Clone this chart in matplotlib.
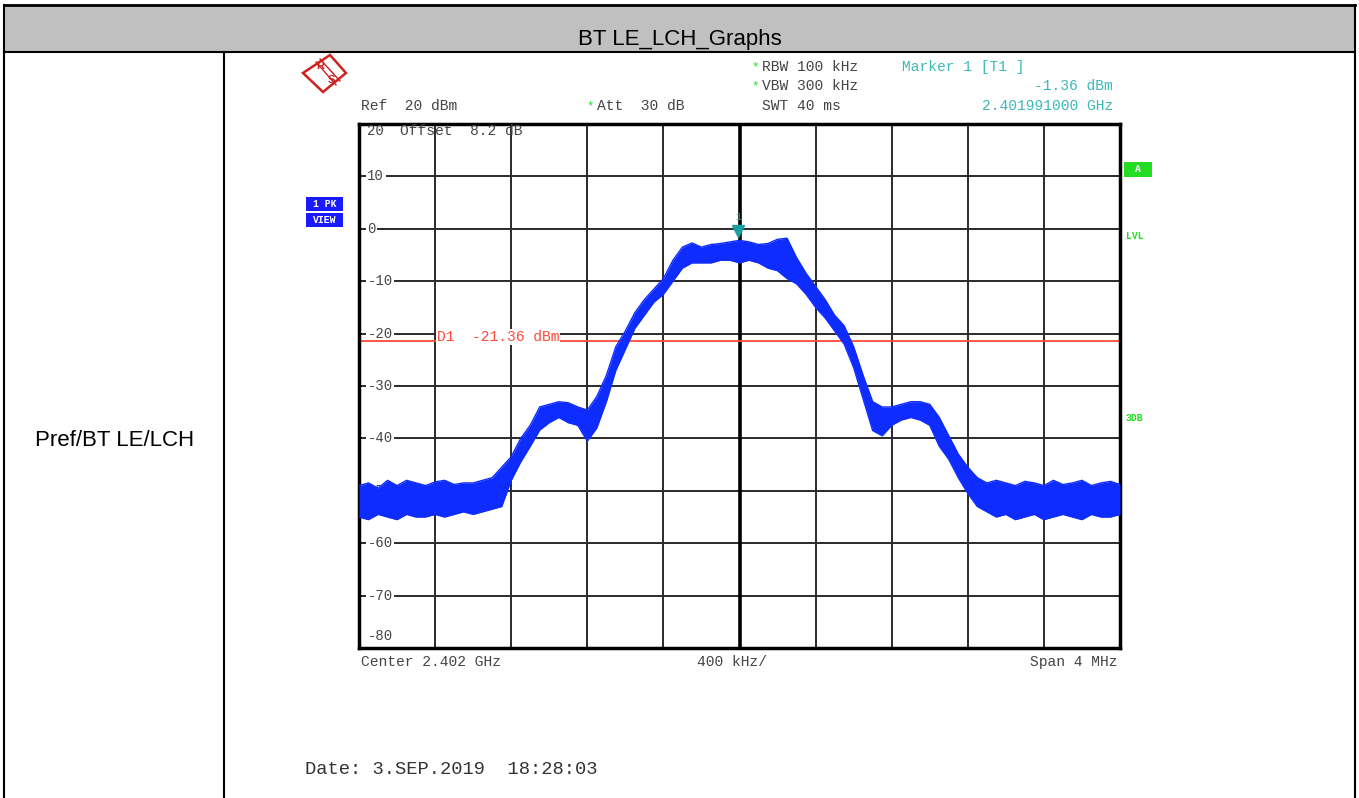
import numpy as np
import matplotlib
matplotlib.use("Agg")
import matplotlib.pyplot as plt
from matplotlib.patches import Rectangle, Polygon
from matplotlib import transforms

# sweep settings
center_ghz = 2.402
span_ghz = 0.004
ref_level = 20
db_per_div = 10
display_line = -21.36
marker_f = 2.401991
marker_db = -1.36

# 81 sweep samples, 50 kHz apart (2.400 .. 2.404 GHz)
freq = np.linspace(center_ghz - span_ghz / 2, center_ghz + span_ghz / 2, 81)

# peak trace envelope (dBm), upper and lower edge of the noisy trace
trace_hi = [
    -49.0, -48.5, -49.5, -48.0, -49.0, -48.0, -48.5, -49.0, -48.3, -48.0,
    -48.8, -48.5, -48.5, -48.0, -47.5, -45.5, -43.5, -40.0, -37.5, -34.0,
    -33.5, -33.0, -33.2, -34.0, -34.6, -32.0, -28.0, -22.5, -19.5, -16.0,
    -13.5, -11.5, -9.5, -6.0, -3.5, -2.7, -3.5, -3.0, -2.8, -2.5,
    -2.2, -2.5, -3.0, -2.8, -2.0, -1.8, -5.5, -8.5, -11.0, -13.5,
    -16.5, -18.5, -22.5, -28.0, -33.0, -34.0, -34.0, -33.5, -33.0, -33.0,
    -33.5, -36.0, -39.5, -43.0, -45.5, -47.5, -48.5, -48.0, -48.5, -49.0,
    -48.2, -48.5, -49.0, -48.0, -48.8, -48.5, -48.0, -49.0, -48.5, -48.2,
    -48.8,
]
trace_lo = [
    -55.0, -55.5, -54.5, -55.0, -55.5, -54.5, -55.0, -55.0, -54.5, -55.0,
    -54.5, -54.0, -54.5, -54.0, -53.5, -53.0, -48.0, -44.5, -41.5, -38.4,
    -37.0, -36.0, -37.0, -37.5, -40.5, -38.0, -33.0, -27.0, -23.0, -19.0,
    -16.5, -14.0, -12.5, -10.0, -7.5, -6.5, -6.5, -6.5, -6.0, -6.0,
    -6.5, -6.0, -6.5, -7.5, -8.0, -9.5, -10.5, -12.5, -15.0, -17.0,
    -19.5, -22.0, -26.5, -32.5, -38.5, -39.5, -37.5, -36.5, -36.0, -36.5,
    -37.5, -41.5, -44.0, -47.5, -50.5, -53.0, -54.0, -55.0, -54.5, -55.5,
    -55.0, -54.5, -55.5, -55.0, -54.5, -55.0, -55.5, -54.5, -55.0, -55.0,
    -54.5,
]

W, H = 1359, 798
MONO = "Liberation Mono"
SANS = "Liberation Sans"
GREY_TXT = "#454545"
TEAL = "#3cb9b9"
GREEN = "#22dd22"
BLUE = "#0f2cff"
RS_RED = "#d02020"

fig = plt.figure(figsize=(W / 100, H / 100), dpi=100)

# ---- background: the report table, in pixel coords ----
bg = fig.add_axes([0, 0, 1, 1])
bg.set_xlim(0, W)
bg.set_ylim(H, 0)
bg.axis("off")

bg.add_patch(Rectangle((4, 5), 1351, 47, facecolor="#c0c0c0", edgecolor="none"))
bg.plot([4, 1355], [5, 5], color="black", lw=2)
bg.plot([4, 1355], [52, 52], color="black", lw=1.5)
bg.plot([4, 4], [5, H], color="black", lw=1.5)
bg.plot([1355, 1355], [5, H], color="black", lw=1.5)
bg.plot([224, 224], [52, H], color="black", lw=1.5)
bg.text(680, 40, "BT LE_LCH_Graphs", ha="center", va="center", fontsize=16, family=SANS)
bg.text(115, 440, "Pref/BT LE/LCH", ha="center", va="center", fontsize=16, family=SANS)

# R&S logo
bg.add_patch(Polygon([[330, 55], [346, 73], [323, 92], [303, 73]], closed=True,
                     facecolor="white", edgecolor=RS_RED, lw=1.8))
bg.plot([316, 336], [62, 85], color=RS_RED, lw=1)
bg.plot([320, 340], [59, 81], color=RS_RED, lw=1)
bg.text(320, 66, "R", color=RS_RED, fontsize=8, weight="bold", ha="center", va="center", family=SANS)
bg.text(331, 80, "S", color=RS_RED, fontsize=8, weight="bold", ha="center", va="center", family=SANS)

# header texts
FS = 10.5
hdr = dict(family=MONO, fontsize=FS, color=GREY_TXT, va="center")
star = dict(family=MONO, fontsize=9, color=GREEN, va="center", ha="center")
bg.text(361, 106, "Ref  20 dBm", **hdr)
bg.text(590, 106, "*", **star)
bg.text(597, 106, "Att  30 dB", **hdr)
bg.text(755, 67, "*", **star)
bg.text(762, 67, "RBW 100 kHz", **hdr)
bg.text(755, 86, "*", **star)
bg.text(762, 86, "VBW 300 kHz", **hdr)
bg.text(762, 106, "SWT 40 ms", **hdr)
bg.text(902, 67, "Marker 1 [T1 ]", family=MONO, fontsize=FS, color=TEAL, va="center")
bg.text(1113, 86, f"{marker_db:.2f} dBm", family=MONO, fontsize=FS, color=TEAL, va="center", ha="right")
bg.text(1113, 106, f"{marker_f:.9f} GHz", family=MONO, fontsize=FS, color=TEAL, va="center", ha="right")

# side badges
bg.add_patch(Rectangle((306, 197), 37, 14, facecolor="#1a1aff", edgecolor="none"))
bg.add_patch(Rectangle((306, 213), 37, 14, facecolor="#1a1aff", edgecolor="none"))
bg.text(324.5, 204, "1 PK", color="white", fontsize=7, weight="bold", family=MONO, ha="center", va="center")
bg.text(324.5, 220, "VIEW", color="white", fontsize=7, weight="bold", family=MONO, ha="center", va="center")
bg.add_patch(Rectangle((1124, 162), 28, 15, facecolor=GREEN, edgecolor="none"))
bg.text(1138, 169.5, "A", color="white", fontsize=7, weight="bold", family=MONO, ha="center", va="center")
bg.text(1126, 236, "LVL", color=GREEN, fontsize=7, weight="bold", family=MONO, va="center")
bg.text(1126, 418, "3DB", color=GREEN, fontsize=7, weight="bold", family=MONO, va="center")

# footer texts
bg.text(361, 662, f"Center {center_ghz:.3f} GHz", **hdr)
bg.text(697, 662, "400 kHz/", **hdr)
bg.text(1117, 662, "Span 4 MHz", ha="right", family=MONO, fontsize=FS, color=GREY_TXT, va="center")
bg.text(305, 770, "Date: 3.SEP.2019  18:28:03", family=MONO, fontsize=13.5, color="#333333", va="center")

# ---- spectrum display ----
ax = fig.add_axes([359 / W, (H - 648) / H, 761 / W, 524 / H])
ax.set_xlim(freq[0], freq[-1])
ax.set_ylim(ref_level - 10 * db_per_div, ref_level)
ax.set_xticks(np.linspace(freq[0], freq[-1], 11))
ax.set_yticks(np.arange(ref_level - 10 * db_per_div, ref_level + 1, db_per_div))
ax.tick_params(length=0, labelleft=False, labelbottom=False)
ax.grid(True, color="#2a2a2a", lw=1.4)
ax.set_axisbelow(True)
for s in ax.spines.values():
    s.set_linewidth(2.5)
ax.axvline(center_ghz, color="black", lw=2.6, zorder=1.5)

# level labels
ytr = ax.get_yaxis_transform()
for lvl in range(10, -80, -10):
    ax.text(0.011, lvl, str(lvl), transform=ytr, family=MONO, fontsize=10, color=GREY_TXT,
            va="center", ha="left", bbox=dict(facecolor="white", edgecolor="none", pad=1.0), zorder=2)
ax.text(0.011, 18.6, "20", transform=ytr, family=MONO, fontsize=10, color=GREY_TXT, va="center")
ax.text(0.054, 18.6, "Offset  8.2 dB", transform=ytr, family=MONO, fontsize=10.5, color=GREY_TXT, va="center")
ax.text(0.011, -77.7, "-80", transform=ytr, family=MONO, fontsize=10, color=GREY_TXT, va="center")

# display line D1
ax.axhline(display_line, color="#ff4a3a", lw=1.3, zorder=2.5)
ax.text(2.40041, display_line + 0.7, f"D1  {display_line:.2f} dBm", family=MONO, fontsize=10.5,
        color="#ff4a3a", va="center", bbox=dict(facecolor="white", edgecolor="none", pad=0.5), zorder=2.6)

# trace
ax.fill_between(freq, trace_lo, trace_hi, color=BLUE, lw=0, zorder=3)
ax.plot(freq, trace_hi, color=BLUE, lw=1.0, zorder=3)
ax.plot(freq, trace_lo, color=BLUE, lw=1.0, zorder=3)

# marker 1
mk = transforms.offset_copy(ax.transData, fig=fig, x=0, y=5, units="dots")
ax.plot([marker_f], [marker_db], marker="v", color="#1aa0a0", markersize=9, transform=mk,
        zorder=4, clip_on=False)
ax.text(marker_f, marker_db, "1", transform=transforms.offset_copy(ax.transData, fig=fig, y=19, units="dots"),
        family=MONO, fontsize=7, color="#1aa0a0", ha="center", va="center", zorder=4)

fig.savefig("out.png", dpi=100)
